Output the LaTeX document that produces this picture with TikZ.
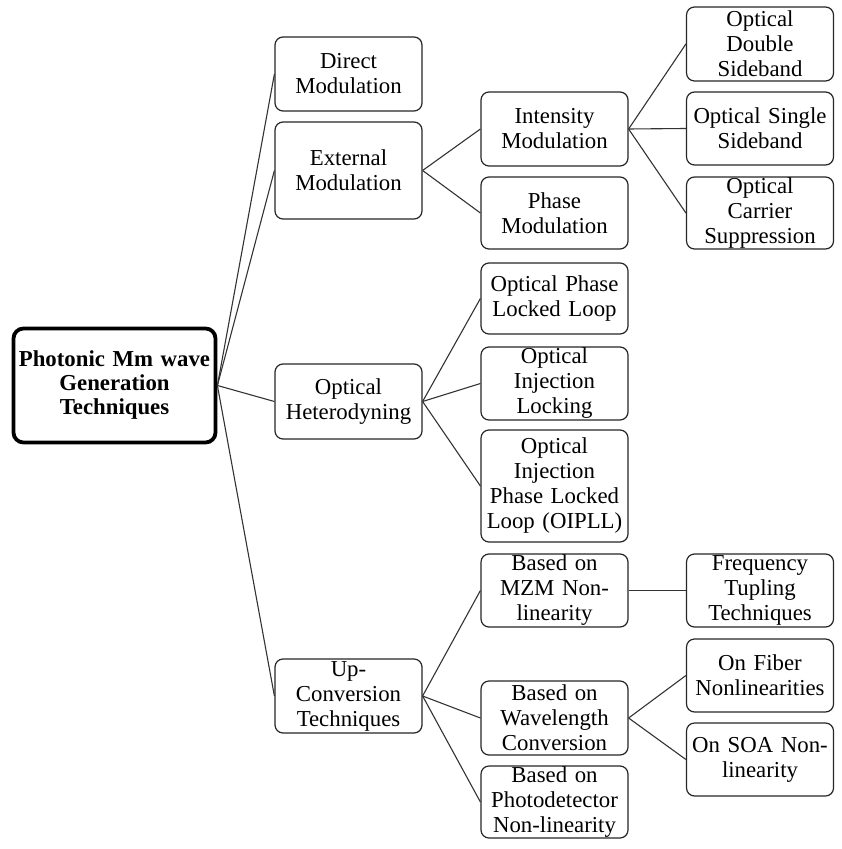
\documentclass[tikz,border=0pt]{standalone}
\usepackage{fontspec}
\setmainfont{Liberation Serif}
\usetikzlibrary{positioning}

\begin{document}
\begin{tikzpicture}[
  x=0.5pt, y=-0.5pt,
  box/.style={draw=black!85, line width=0.6pt, rounded corners=4pt, fill=white,
    align=center, inner sep=0pt, minimum width=73.5pt, text width=72pt,
    font=\fontsize{11.4}{12.5}\selectfont},
  rootbox/.style={draw=black, line width=1.9pt, rounded corners=5pt, fill=white,
    align=center, inner sep=0pt, minimum width=101pt, minimum height=57pt,
    text width=100pt, font=\fontsize{11.4}{12}\selectfont\bfseries},
  link/.style={draw=black!80, line width=0.55pt}] % sizes taken from the page, 1px = 0.5pt

  \useasboundingbox (0,0) rectangle (841,849);

  % root
  \node[rootbox] (root) at (114.5,385.5) {Photonic Mm wave\\Generation\\Techniques};

  % first level
  \node[box, minimum height=37pt] (dm) at (348.5,74) {Direct\\Modulation};
  \node[box, minimum height=48.5pt] (em) at (348.5,170.5) {External\\Modulation};
  \node[box, minimum height=37.5pt] (oh) at (348.5,401.5) {Optical\\Heterodyning};
  \node[box, minimum height=37pt] (uc) at (348.5,696) {Up-\\Conversion\\Techniques};

  % second level
  \node[box, minimum height=37pt] (im) at (554.5,129) {Intensity\\Modulation};
  \node[box, minimum height=36pt] (pm) at (554.5,213) {Phase\\Modulation};
  \node[box, minimum height=35.5pt] (opll) at (554.5,298.5) {Optical Phase\\Locked Loop};
  \node[box, minimum height=36.5pt] (oil) at (554.5,383.5) {Optical\\Injection\\Locking};
  \node[box, minimum height=56pt] (oipll) at (554.5,486) {Optical\\Injection\\Phase Locked\\Loop (OIPLL)};
  \node[box, minimum height=36.5pt] (mzm) at (554.5,590.5) {Based on\\MZM Non-\\linearity};
  \node[box, minimum height=37pt] (wlc) at (554.5,718) {Based on\\Wavelength\\Conversion};
  \node[box, minimum height=36pt] (pd) at (554.5,802) {Based on\\Photodetector\\Non-linearity};

  % third level
  \node[box, minimum height=37pt] (odsb) at (760,44) {Optical\\Double\\Sideband};
  \node[box, minimum height=36.5pt] (ossb) at (760,128.5) {Optical Single\\Sideband};
  \node[box, minimum height=36pt] (ocs) at (760,213) {Optical\\Carrier\\Suppression};
  \node[box, minimum height=36.5pt] (ftt) at (760,590.5) {Frequency\\Tupling\\Techniques};
  \node[box, minimum height=36.5pt] (ofn) at (760,675.5) {On Fiber\\Nonlinearities};
  \node[box, minimum height=36.5pt] (soa) at (760,759.5) {On SOA Non-\\linearity};

  % connectors
  \foreach \a/\b in {root/dm, root/em, root/oh, root/uc,
                     em/im, em/pm,
                     im/odsb, im/ossb, im/ocs,
                     oh/opll, oh/oil, oh/oipll,
                     uc/mzm, uc/wlc, uc/pd,
                     mzm/ftt, wlc/ofn, wlc/soa}
    \draw[link] (\a.east) -- (\b.west);
\end{tikzpicture}
\end{document}
